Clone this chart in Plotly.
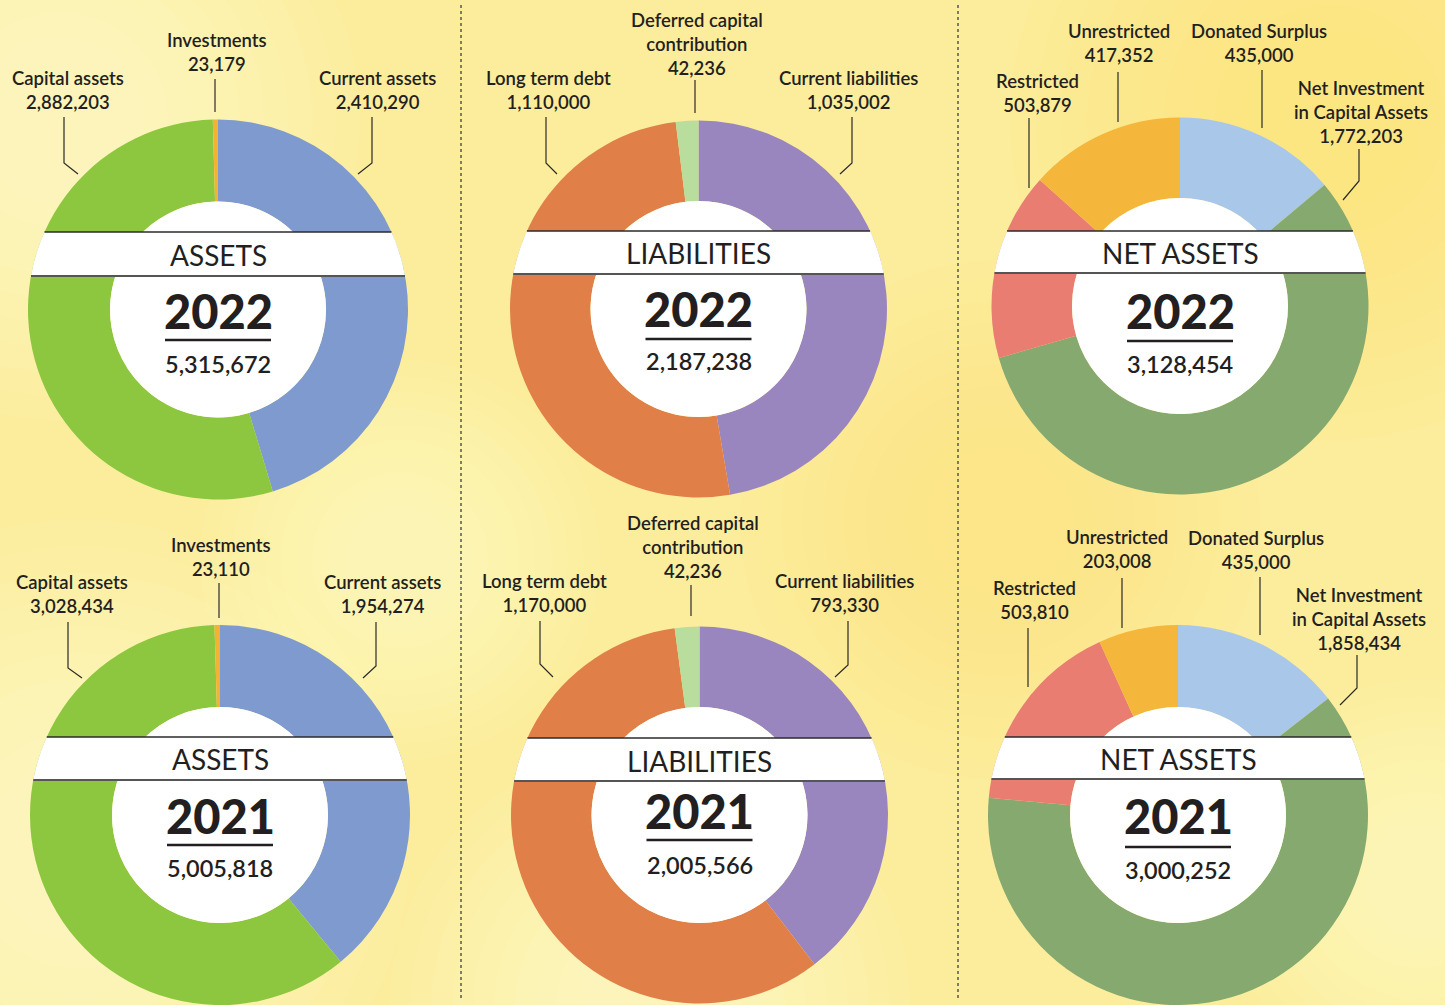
import math
import plotly.graph_objects as go

W, H = 1445, 1005

# ---------------- data ----------------
titles = ["ASSETS", "LIABILITIES", "NET ASSETS"]
years = ["2022", "2021"]

assets_labels = ["Current assets", "Capital assets", "Investments"]
assets_2022 = [2410290, 2882203, 23179]
assets_2021 = [1954274, 3028434, 23110]

liab_labels = ["Current liabilities", "Long term debt", "Deferred capital<br>contribution"]
liab_2022 = [1035002, 1110000, 42236]
liab_2021 = [793330, 1170000, 42236]

net_labels = ["Donated Surplus", "Net Investment<br>in Capital Assets", "Restricted", "Unrestricted"]
net_2022 = [435000, 1772203, 503879, 417352]
net_2021 = [435000, 1858434, 503810, 203008]

totals_2022 = [5315672, 2187238, 3128454]
totals_2021 = [5005818, 2005566, 3000252]

# ---------------- styling ----------------
colors = [
    ["#7F9ACE", "#8DC63F", "#F4B234"],
    ["#9A86BF", "#E07F48", "#B9DD9D"],
    ["#A9C7E8", "#86A970", "#E97D72", "#F4B63B"],
]
TXT = "#231F20"
FONT = "Lato"
INNER_R = 108

# layout of each donut (pixel positions): centre, radius, band, text rows
geo = {
    (0, 0): dict(cx=218, cy=309.5, r=190, band=(232, 276), ty=255, yy=311, ly=340, sy=364),
    (1, 0): dict(cx=698.5, cy=309, r=188.5, band=(231, 274), ty=253, yy=309, ly=339, sy=361),
    (2, 0): dict(cx=1180, cy=306, r=188.5, band=(231, 273), ty=253, yy=311, ly=341, sy=364),
    (0, 1): dict(cx=220, cy=815, r=190, band=(737, 780), ty=759, yy=816, ly=845, sy=868),
    (1, 1): dict(cx=699.5, cy=815, r=188.5, band=(738, 781), ty=761, yy=811, ly=840, sy=865),
    (2, 1): dict(cx=1178, cy=815, r=190, band=(737, 779), ty=759, yy=816, ly=847, sy=870),
}
# label centres and leader lines for each slice (pixel positions)
label_pos = {
    (0, 0): [((377, 90), [(372, 117), (372, 163), (358, 174)]),
             ((68, 90), [(64, 117), (64, 163), (78, 174)]),
             ((217, 52), [(215, 79), (215, 112)])],
    (1, 0): [((848, 90), [(852, 117), (852, 163), (840, 174)]),
             ((548, 90), [(546, 117), (546, 163), (557, 174)]),
             ((697, 44), [(695, 80), (695, 113)])],
    (2, 0): [((1259, 43), [(1262, 70), (1262, 128)]),
             ((1361, 112), [(1359, 149), (1359, 181), (1343, 200)]),
             ((1037, 93), [(1029, 118), (1029, 188)]),
             ((1119, 43), [(1118, 72), (1118, 122)])],
    (0, 1): [((382, 594), [(376, 622), (376, 666), (363, 678)]),
             ((72, 594), [(68, 622), (68, 668), (82, 678)]),
             ((221, 557), [(219, 583), (219, 618)])],
    (1, 1): [((844, 593), [(848, 621), (848, 665), (835, 677)]),
             ((544, 593), [(540, 621), (540, 664), (553, 677)]),
             ((693, 547), [(691, 585), (691, 616)])],
    (2, 1): [((1256, 550), [(1260, 577), (1260, 635)]),
             ((1359, 619), [(1357, 655), (1357, 688), (1340, 705)]),
             ((1034, 600), [(1028, 628), (1028, 687)]),
             ((1117, 549), [(1122, 578), (1122, 628)])],
}

values = {
    (0, 0): assets_2022, (1, 0): liab_2022, (2, 0): net_2022,
    (0, 1): assets_2021, (1, 1): liab_2021, (2, 1): net_2021,
}
labels = [assets_labels, liab_labels, net_labels]
totals = [totals_2022, totals_2021]

fig = go.Figure()

# invisible trace to create pixel-space axes
fig.add_trace(go.Scatter(x=[0, W], y=[0, H], mode="markers", marker=dict(opacity=0),
                         hoverinfo="skip", showlegend=False))

shapes = []
annotations = []

# soft watercolour background patches (stacked translucent circles)
blobs = [
    (60, 120, 300, (255, 250, 212)),
    (80, 850, 330, (255, 251, 218)),
    (400, 560, 200, (255, 249, 205)),
    (650, 1005, 260, (255, 250, 212)),
    (1330, 120, 320, (251, 232, 118)),
    (1000, 520, 260, (251, 233, 125)),
    (1420, 880, 200, (255, 250, 210)),
]
for bx, by, br, (cr, cg, cb) in blobs:
    for i in range(10):
        rr = br * (1.0 - i * 0.08)
        shapes.append(dict(type="circle", xref="x", yref="y", x0=bx - rr, x1=bx + rr,
                           y0=by - rr, y1=by + rr, fillcolor=f"rgba({cr},{cg},{cb},0.08)",
                           line=dict(width=0), layer="below"))

# dotted separators
for sx in (461, 958):
    shapes.append(dict(type="line", xref="x", yref="y", x0=sx, x1=sx, y0=5, y1=1000,
                       line=dict(color="#555555", width=1.5, dash="dot"), layer="above"))


def fmt(v):
    return f"{v:,}"


for (c, yi), g in geo.items():
    cx, cy, r = g["cx"], g["cy"], g["r"]
    vals = values[(c, yi)]
    plain = [l.replace("<br>", " ") for l in labels[c]]
    fig.add_trace(go.Pie(
        values=vals, labels=plain, sort=False, direction="clockwise", rotation=0,
        hole=INNER_R / r, textinfo="none", hoverinfo="label+value",
        marker=dict(colors=colors[c], line=dict(width=0)),
        domain=dict(x=[(cx - r) / W, (cx + r) / W],
                    y=[max(0, 1 - (cy + r) / H), min(1, 1 - (cy - r) / H)]),
        showlegend=False,
    ))

    # white centre
    shapes.append(dict(type="circle", xref="x", yref="y", x0=cx - INNER_R, x1=cx + INNER_R,
                       y0=cy - INNER_R, y1=cy + INNER_R, fillcolor="white",
                       line=dict(width=0), layer="above"))

    # white band clipped to the circle
    y1, y2 = g["band"]
    n = 12
    right = []
    left = []
    for i in range(n + 1):
        yy = y1 + (y2 - y1) * i / n
        dx = math.sqrt(max(r * r - (yy - cy) ** 2, 0))
        right.append((cx + dx, yy))
        left.append((cx - dx, yy))
    pts = right + left[::-1]
    path = "M " + " L ".join(f"{px:.2f},{py:.2f}" for px, py in pts) + " Z"
    shapes.append(dict(type="path", xref="x", yref="y", path=path, fillcolor="white",
                       line=dict(width=0), layer="above"))
    for yy, col, wd in ((y1, "#2A2A2A", 1.5), (y2, "#555555", 2)):
        dx = math.sqrt(max(r * r - (yy - cy) ** 2, 0))
        shapes.append(dict(type="line", xref="x", yref="y", x0=cx - dx, x1=cx + dx, y0=yy, y1=yy,
                           line=dict(color=col, width=wd), layer="above"))

    # year underline
    shapes.append(dict(type="line", xref="x", yref="y", x0=cx - 53, x1=cx + 53,
                       y0=g["ly"], y1=g["ly"], line=dict(color=TXT, width=2.5), layer="above"))

    annotations.append(dict(x=cx, y=g["ty"], xref="x", yref="y", text=titles[c], showarrow=False,
                            font=dict(family=FONT, size=28, color=TXT, weight=400),
                            xanchor="center", yanchor="middle"))
    annotations.append(dict(x=cx, y=g["yy"], xref="x", yref="y", text=years[yi], showarrow=False,
                            font=dict(family=FONT, size=47, color=TXT, weight=900),
                            xanchor="center", yanchor="middle"))
    annotations.append(dict(x=cx, y=g["sy"], xref="x", yref="y", text=fmt(totals[yi][c]),
                            showarrow=False, font=dict(family=FONT, size=23.5, color=TXT, weight=600),
                            xanchor="center", yanchor="middle"))

    # slice labels + leader lines
    for k, ((lx, ly), line_pts) in enumerate(label_pos[(c, yi)]):
        annotations.append(dict(x=lx, y=ly, xref="x", yref="y",
                                text=f"{labels[c][k]}<br>{fmt(vals[k])}", showarrow=False,
                                font=dict(family=FONT, size=18.5, color=TXT, weight=600),
                                xanchor="center", yanchor="middle", align="center"))
        lp = "M " + " L ".join(f"{px},{py}" for px, py in line_pts)
        shapes.append(dict(type="path", xref="x", yref="y", path=lp,
                           line=dict(color="#2A2A2A", width=1.2), layer="above"))

fig.update_layout(
    width=W, height=H, margin=dict(l=0, r=0, t=0, b=0),
    paper_bgcolor="#FCED9C", plot_bgcolor="rgba(0,0,0,0)",
    xaxis=dict(range=[0, W], visible=False, fixedrange=True),
    yaxis=dict(range=[H, 0], visible=False, fixedrange=True),
    shapes=shapes, annotations=annotations, showlegend=False,
)

fig.write_html("out.html", config={"displayModeBar": False},
               post_script="document.body.style.margin='0';")
